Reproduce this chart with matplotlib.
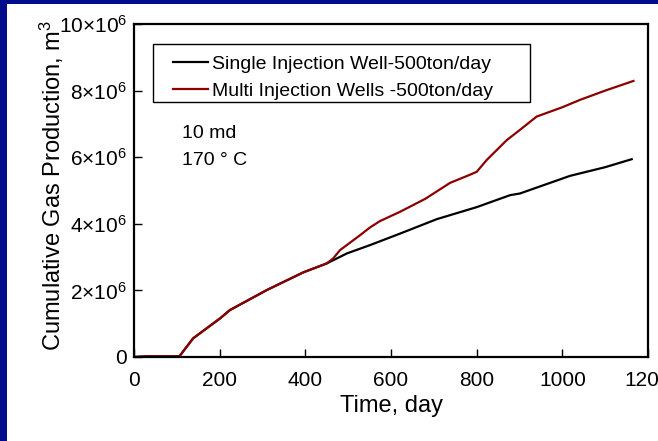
import matplotlib.pyplot as plt
from matplotlib.patches import Rectangle
from matplotlib.ticker import FixedLocator, FixedFormatter

plt.rcParams['font.family'] = ['Liberation Sans', 'DejaVu Sans']
plt.rcParams['mathtext.fontset'] = 'custom'
plt.rcParams['mathtext.rm'] = 'Liberation Sans'
plt.rcParams['mathtext.it'] = 'Liberation Sans'

# --- data (days, m3 in millions) ---
t_single = [0, 30, 106, 138, 201, 224, 310, 395, 450, 497, 551, 620, 707, 800, 878, 901, 1018, 1100, 1162]
v_single = [0, 0.02, 0.02, 0.56, 1.16, 1.41, 2.01, 2.54, 2.81, 3.11, 3.36, 3.70, 4.14, 4.50, 4.86, 4.91, 5.44, 5.70, 5.94]

t_multi = [0, 30, 106, 138, 201, 224, 310, 395, 450, 465, 481, 528, 551, 574, 621, 680, 738, 780, 800,
           823, 870, 901, 940, 1000, 1041, 1100, 1166]
v_multi = [0, 0.02, 0.02, 0.56, 1.16, 1.41, 2.01, 2.54, 2.81, 2.96, 3.21, 3.66, 3.89, 4.08, 4.36, 4.75, 5.23,
           5.45, 5.56, 5.91, 6.51, 6.82, 7.22, 7.50, 7.72, 8.00, 8.29]

labels = ["Single Injection Well-500ton/day", "Multi Injection Wells -500ton/day"]
yticks = [0, 2, 4, 6, 8, 10]
yticklabels = ["0"] + [r"%d$\times$10$^{6}$" % v for v in yticks[1:]]
xticks = [0, 200, 400, 600, 800, 1000, 1200]

fig = plt.figure(figsize=(6.58, 4.41), dpi=100, facecolor='#000c8c')
fig.patches.append(Rectangle((7 / 658, 0), 1, (441 - 4) / 441, transform=fig.transFigure,
                             facecolor='white', edgecolor='none', zorder=-10))

ax = fig.add_axes([134 / 658, (441 - 357) / 441, 514 / 658, 333 / 441])
ax.set_zorder(5)
ax.set_facecolor('white')

ax.plot(t_single, v_single, color='black', lw=1.6, label=labels[0])
ax.plot(t_multi, v_multi, color='#8b0000', lw=1.6, label=labels[1])

ax.set_xlim(0, 1200)
ax.set_ylim(0, 10)
ax.xaxis.set_major_locator(FixedLocator(xticks))
ax.yaxis.set_major_locator(FixedLocator(yticks))
ax.yaxis.set_major_formatter(FixedFormatter(yticklabels))
ax.tick_params(direction='in', length=6, width=1, labelsize=15, top=False, right=False)
ax.tick_params(axis='y', pad=5)
ax.tick_params(axis='x', pad=10)
for s in ax.spines.values():
    s.set_linewidth(1.6)

ax.set_xlabel("Time, day", fontsize=17, labelpad=4)
ax.set_ylabel("Cumulative Gas Production, m$^{3}$", fontsize=17)
ax.yaxis.set_label_coords(-0.132, 0.516)

# legend: frame drawn separately so the left padding matches
ax.add_patch(Rectangle((0.037, 0.766), 0.733, 0.174, transform=ax.transAxes,
                       facecolor='white', edgecolor='black', lw=1.0, zorder=4))
leg = ax.legend(loc='upper left', bbox_to_anchor=(0.076, 0.907), frameon=False,
                fontsize=14, handlelength=1.8, handletextpad=0.2, borderpad=0,
                labelspacing=0.5, borderaxespad=0)
leg.set_zorder(6)

ax.text(112, 6.71, "10 md", fontsize=14, va='center')
ax.text(112, 5.89, "170 ° C", fontsize=14, va='center')

fig.savefig("out.png", dpi=100, facecolor=fig.get_facecolor())
